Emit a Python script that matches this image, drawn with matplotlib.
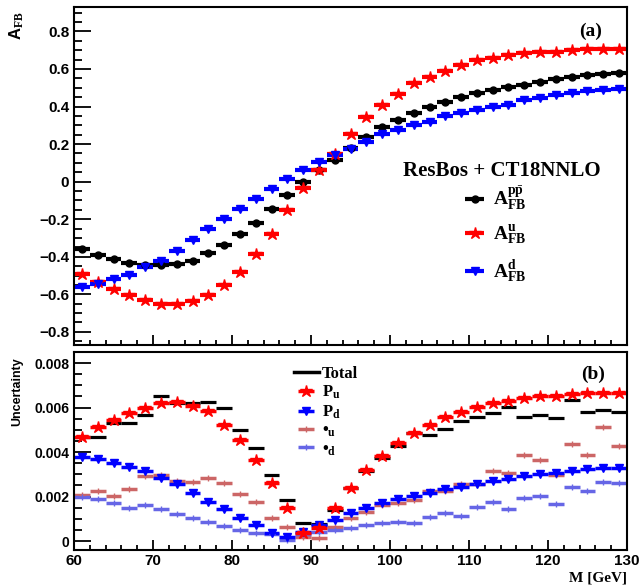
import numpy as np
import matplotlib
matplotlib.use("Agg")
import matplotlib.pyplot as plt
from matplotlib.ticker import MultipleLocator
from matplotlib.lines import Line2D

plt.rcParams['mathtext.fontset'] = 'custom'
plt.rcParams['mathtext.rm'] = 'Liberation Serif:bold'
plt.rcParams['mathtext.bf'] = 'Liberation Serif:bold'
plt.rcParams['mathtext.it'] = 'Liberation Serif:bold'

# ---------------- data ----------------
mass = np.arange(61, 130, 2)          # bin centres [GeV], 2 GeV bins 60-130
half_width = 1.0

afb_ppbar = [-0.357, -0.393, -0.41, -0.432, -0.446, -0.446, -0.44, -0.42, -0.38, -0.34,
             -0.277, -0.219, -0.148, -0.073, 0.0, 0.06, 0.115, 0.18, 0.24, 0.29,
             0.327, 0.363, 0.398, 0.425, 0.452, 0.47, 0.487, 0.505, 0.517, 0.53,
             0.544, 0.558, 0.567, 0.571, 0.576]
afb_u = [-0.49, -0.535, -0.57, -0.606, -0.633, -0.65, -0.65, -0.638, -0.606, -0.553,
         -0.482, -0.384, -0.277, -0.153, -0.034, 0.06, 0.149, 0.256, 0.345, 0.407,
         0.469, 0.523, 0.558, 0.588, 0.62, 0.647, 0.66, 0.674, 0.683, 0.69,
         0.69, 0.70, 0.706, 0.706, 0.706]
afb_d = [-0.562, -0.544, -0.517, -0.496, -0.455, -0.42, -0.372, -0.313, -0.254, -0.201,
         -0.144, -0.091, -0.037, 0.016, 0.064, 0.105, 0.14, 0.176, 0.21, 0.256,
         0.274, 0.30, 0.32, 0.35, 0.363, 0.38, 0.398, 0.41, 0.434, 0.446,
         0.46, 0.47, 0.482, 0.487, 0.492]

unc_total = [0.0047, 0.0047, 0.00533, 0.00533, 0.00567, 0.00653, 0.0062, 0.0062, 0.00627, 0.006,
             0.005, 0.00417, 0.00297, 0.00185, 0.00082, 0.00075, 0.0014, 0.00237, 0.00315, 0.00372,
             0.00428, 0.00488, 0.00477, 0.00503, 0.0054, 0.00557, 0.00578, 0.00602, 0.00557, 0.00567,
             0.00552, 0.00635, 0.00582, 0.0059, 0.00582]
unc_pu = [0.0047, 0.00512, 0.00545, 0.00578, 0.006, 0.0062, 0.00624, 0.00608, 0.00585, 0.00522,
          0.00455, 0.00365, 0.00263, 0.0015, 0.00035, 0.0006, 0.00147, 0.0024, 0.0032, 0.00383,
          0.0044, 0.00488, 0.00522, 0.00557, 0.00582, 0.00605, 0.0062, 0.0063, 0.00642, 0.00653,
          0.00653, 0.0066, 0.00665, 0.00665, 0.00665]
unc_pd = [0.0038, 0.00368, 0.0035, 0.00335, 0.00315, 0.00282, 0.00255, 0.00218, 0.00177, 0.00143,
          0.00102, 0.00072, 0.00037, 0.0002, 0.00042, 0.00072, 0.00095, 0.00125, 0.00147, 0.0017,
          0.00188, 0.00203, 0.00218, 0.00233, 0.00245, 0.00257, 0.00272, 0.00278, 0.00293, 0.003,
          0.00307, 0.00315, 0.00323, 0.00327, 0.0033]
unc_du = [0.00205, 0.00226, 0.00203, 0.00234, 0.00293, 0.00297, 0.00272, 0.00267, 0.00282, 0.00263,
          0.0021, 0.00174, 0.00105, 0.00062, 0.0002, 0.00013, 0.00064, 0.00103, 0.00132, 0.00162,
          0.0017, 0.00185, 0.00226, 0.00226, 0.00257, 0.00257, 0.00315, 0.00305, 0.00387, 0.00363,
          0.00297, 0.00437, 0.00387, 0.00512, 0.00428]
unc_dd = [0.002, 0.00188, 0.00173, 0.0015, 0.00162, 0.00144, 0.0012, 0.00102, 0.00087, 0.00069,
          0.0005, 0.00035, 0.0003, 0.00005, 0.0003, 0.00042, 0.0005, 0.0006, 0.00072, 0.00082,
          0.00087, 0.00082, 0.0011, 0.00127, 0.00112, 0.00152, 0.00174, 0.00143, 0.00192, 0.00203,
          0.00167, 0.00245, 0.00226, 0.00267, 0.0026]

# ---------------- styling ----------------
RED = '#ff0000'
BLUE = '#0000ff'
ROSY = '#cc6666'
LBLUE = '#6666e6'
serif_bold = dict(family='Liberation Serif', weight='bold')

fig = plt.figure(figsize=(6.39, 5.86), dpi=100)
ax1 = fig.add_axes([74/639, 1-345/586, 553/639, 338/586])
ax2 = fig.add_axes([74/639, 1-550/586, 553/639, 198/586])

def style_axis(ax):
    for s in ax.spines.values():
        s.set_linewidth(1.5)
    ax.tick_params(axis='both', which='both', direction='in', top=False, right=False,
                   width=1.3, labelsize=11)
    ax.tick_params(axis='y', which='major', length=12)
    ax.tick_params(axis='y', which='minor', length=6)
    ax.tick_params(axis='x', which='major', length=7)
    ax.tick_params(axis='x', which='minor', length=3.5)

# ---- top panel ----
ekw = dict(xerr=half_width, linestyle='none', elinewidth=3, capsize=0)
h1 = ax1.errorbar(mass, afb_ppbar, fmt='o', color='black', ms=5, **ekw)
h2 = ax1.errorbar(mass, afb_u, fmt='*', color=RED, ms=9, **ekw)
h3 = ax1.errorbar(mass, afb_d, fmt='v', color=BLUE, ms=6, **ekw)
ax1.set_xlim(60, 130)
ax1.xaxis.set_major_locator(MultipleLocator(10))
ax1.xaxis.set_minor_locator(MultipleLocator(2))
ax1.yaxis.set_minor_locator(MultipleLocator(0.05))
ax1.set_xticklabels([])
style_axis(ax1)
yt = [-0.8, -0.6, -0.4, -0.2, 0, 0.2, 0.4, 0.6, 0.8]
ax1.set_yticks(yt)
ax1.set_yticklabels([('%g' % v).replace('-', '\u2212') for v in yt],
                    fontdict=dict(family='Liberation Sans', weight='bold', size=11))
ax1.set_ylim(-0.87, 0.93)

fig.text(17/639, 1-26/586, r'A$_{\mathrm{FB}}$', rotation=90, ha='center', va='center',
         fontsize=12, family='Liberation Sans', weight='bold')
ax1.text(0.955, 0.955, '(a)', transform=ax1.transAxes, ha='right', va='top', fontsize=14, **serif_bold)
ax1.text(0.595, 0.515, 'ResBos + CT18NNLO', transform=ax1.transAxes, ha='left', va='center',
         fontsize=15, **serif_bold)
leg1 = ax1.legend([h1, h2, h3],
                  [r'$\mathrm{A}_{\mathrm{FB}}^{\mathrm{p\bar{p}}}$', r'$\mathrm{A}_{\mathrm{FB}}^{\mathrm{u}}$',
                   r'$\mathrm{A}_{\mathrm{FB}}^{\mathrm{d}}$'],
                  loc='upper left', bbox_to_anchor=(0.67, 0.525), frameon=False,
                  handlelength=1.3, handletextpad=0.3, labelspacing=0.6,
                  prop=dict(family='Liberation Serif', weight='bold', size=14))

# ---- bottom panel ----
ht = ax2.errorbar(mass, unc_total, xerr=half_width, fmt='none', ecolor='black', elinewidth=2.3, capsize=0)
hdu = ax2.errorbar(mass, unc_du, xerr=half_width, fmt='+', color=ROSY, ms=5, mew=1,
                   elinewidth=2.5, capsize=0)
hdd = ax2.errorbar(mass, unc_dd, xerr=half_width, fmt='+', color=LBLUE, ms=5, mew=1,
                   elinewidth=2.5, capsize=0)
hpd = ax2.errorbar(mass, unc_pd, xerr=half_width, fmt='v', color=BLUE, ms=6,
                   elinewidth=2.5, capsize=0)
hpu = ax2.errorbar(mass, unc_pu, xerr=half_width, fmt='*', color=RED, ms=9,
                   elinewidth=2.5, capsize=0)
ax2.set_xlim(60, 130)
ax2.xaxis.set_minor_locator(MultipleLocator(2))
ax2.yaxis.set_minor_locator(MultipleLocator(0.0005))
style_axis(ax2)
ax2.set_yticks([0, 0.002, 0.004, 0.006, 0.008])
ax2.set_yticklabels(['0', '0.002', '0.004', '0.006', '0.008'],
                    fontdict=dict(family='Liberation Sans', weight='bold', size=10))
ax2.set_ylim(-0.0004, 0.0085)
ax2.set_xticks([60, 70, 80, 90, 100, 110, 120, 130])
ax2.set_xticklabels(['60', '70', '80', '90', '100', '110', '120', '130'],
                    fontdict=dict(family='Liberation Sans', weight='bold', size=11))
ax2.tick_params(axis='x', pad=3)

fig.text(17/639, 1-392/586, 'Uncertainty', rotation=90, ha='center', va='center',
         fontsize=9, family='Liberation Sans', weight='bold')
ax2.text(0.96, 0.93, '(b)', transform=ax2.transAxes, ha='right', va='top', fontsize=14, **serif_bold)
fig.text(627/639, 1-578/586, 'M [GeV]', ha='right', va='center', fontsize=11, **serif_bold)

total_handle = Line2D([], [], color='black', lw=2.5)
leg2 = ax2.legend([total_handle, hpu, hpd, hdu, hdd],
                  ['Total', r'P$_{\mathrm{u}}$', r'P$_{\mathrm{d}}$', '\u2022$_{\mathrm{u}}$', '\u2022$_{\mathrm{d}}$'],
                  loc='upper left', bbox_to_anchor=(0.37, 1.005), frameon=False,
                  handlelength=1.5, handletextpad=0.2, labelspacing=0.12,
                  prop=dict(family='Liberation Serif', weight='bold', size=12))

fig.savefig('out.png', dpi=100)
